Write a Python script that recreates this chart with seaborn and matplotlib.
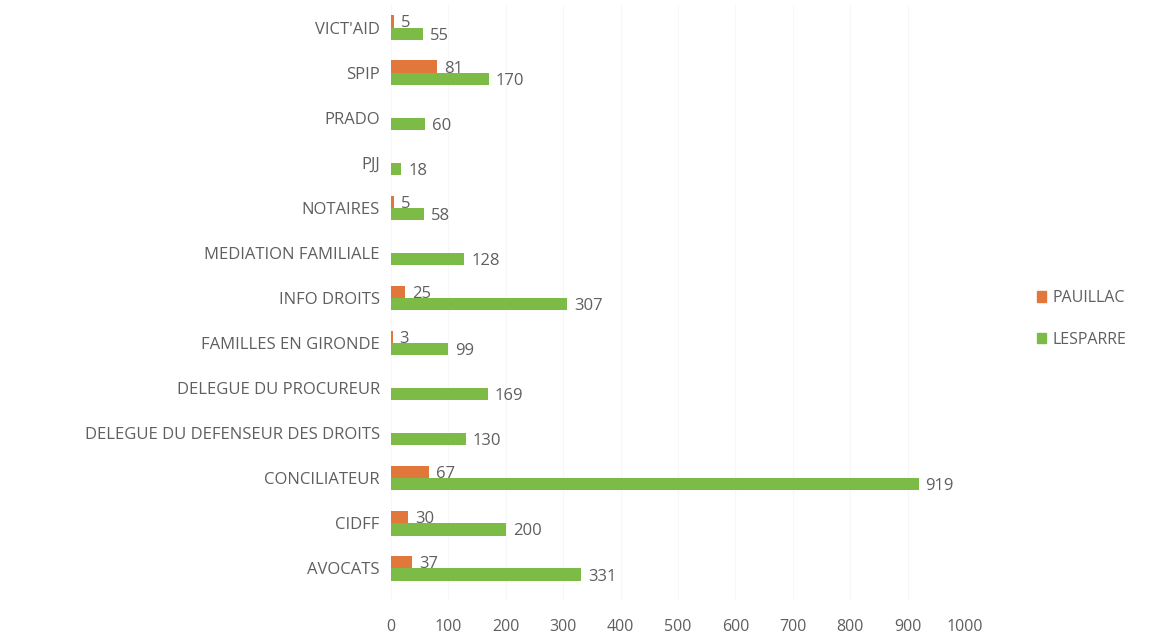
import numpy as np
import pandas as pd
import matplotlib
matplotlib.use("Agg")
import matplotlib.pyplot as plt
import seaborn as sns

# ── Data ───────────────────────────────────────────────────
categories = ["VICT'AID", "SPIP", "PRADO", "PJJ", "NOTAIRES", "MEDIATION FAMILIALE",
              "INFO DROITS", "FAMILLES EN GIRONDE", "DELEGUE DU PROCUREUR",
              "DELEGUE DU DEFENSEUR DES DROITS", "CONCILIATEUR", "CIDFF", "AVOCATS"]
pauillac = [5, 81, np.nan, np.nan, 5, np.nan, 25, 3, np.nan, np.nan, 67, 30, 37]
lesparre = [55, 170, 60, 18, 58, 128, 307, 99, 169, 130, 919, 200, 331]
series = ["PAUILLAC", "LESPARRE"]
x_ticks = list(range(0, 1001, 100))

ORANGE = "#E2773B"
GREEN = "#7CBB45"
TEXT = "#5f5f5f"

df = pd.DataFrame({
    "cat": categories * 2,
    "serie": [series[0]] * len(categories) + [series[1]] * len(categories),
    "val": pauillac + lesparre,
})

sns.set_style("white")
plt.rcParams["font.family"] = ["Open Sans", "DejaVu Sans"]

fig = plt.figure(figsize=(11.55, 6.34), dpi=100)
ax = fig.add_axes([0.3385, 0.0536, 0.497, 0.9385])

sns.barplot(data=df, y="cat", x="val", hue="serie", order=categories,
            hue_order=series, palette=[ORANGE, GREEN], orient="h",
            width=0.54, saturation=1, linewidth=0, ax=ax, legend=False,
            errorbar=None)

# value labels
for cont in ax.containers:
    for bar in cont:
        w = bar.get_width()
        if np.isnan(w) or w == 0:
            continue
        ax.annotate(f"{int(round(w))}", (w, bar.get_y() + bar.get_height() / 2),
                    xytext=(7, -2), textcoords="offset pixels",
                    ha="left", va="center", fontsize=12, color=TEXT)

ax.set_xlim(0, 1000)
ax.set_ylim(12.7, -0.5)
ax.set_xticks(x_ticks)
ax.set_xticklabels([str(t) for t in x_ticks], fontsize=11.5, color=TEXT)
ax.tick_params(axis="y", labelsize=12, labelcolor=TEXT, length=0, pad=8)
ax.tick_params(axis="x", length=0, pad=14)
ax.set_xlabel("")
ax.set_ylabel("")
ax.xaxis.grid(True, color="#f7f7f7", linewidth=0.8)
ax.set_axisbelow(True)
for s in ax.spines.values():
    s.set_visible(False)

handles = [plt.Rectangle((0, 0), 1, 1, color=c) for c in [ORANGE, GREEN]]
leg = fig.legend(handles, series, loc="center left", bbox_to_anchor=(0.885, 0.497),
                 frameon=False, fontsize=11.5, handlelength=0.6, handleheight=0.6,
                 handletextpad=0.4, labelspacing=1.6)
for t in leg.get_texts():
    t.set_color(TEXT)

fig.savefig("out.png", dpi=100, facecolor="white")
